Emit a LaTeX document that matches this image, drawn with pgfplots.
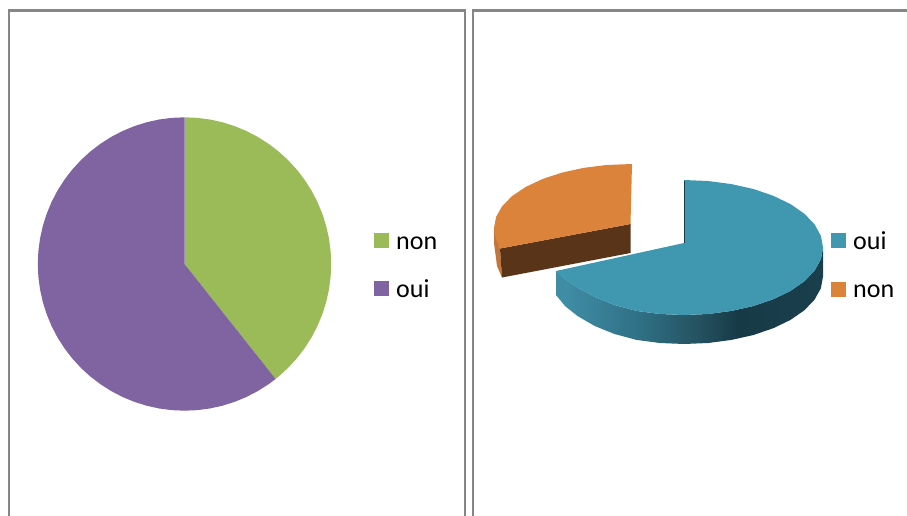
\documentclass[border=0pt]{standalone}
\usepackage{fontspec}
\setmainfont{Carlito}
\usepackage{pgfplots}
\pgfplotsset{compat=1.18}
\definecolor{pgreen}{HTML}{9BBB59}
\definecolor{ppurple}{HTML}{8064A2}
\definecolor{pteal}{HTML}{4098B0}
\definecolor{porange}{HTML}{DB823B}
\definecolor{pbrown}{HTML}{5A3418}
\definecolor{pside}{HTML}{C4763A}
\definecolor{frameg}{HTML}{868686}
\definecolor{teal1}{HTML}{3F8CA5}
\definecolor{teal2}{HTML}{2F6F84}
\definecolor{teal25}{HTML}{24515F}
\definecolor{teal3}{HTML}{173A47}
\definecolor{teal4}{HTML}{1A3F4C}
\pgfdeclarehorizontalshading{wallshade}{100bp}{
  color(0bp)=(teal1); color(27bp)=(teal1); color(41bp)=(teal2); color(52bp)=(teal25); color(59bp)=(teal3); color(75bp)=(teal4); color(100bp)=(teal4)}
\begin{document}
\begin{tikzpicture}
\path[use as bounding box] (0,0) rectangle (907pt,515pt);
% Flat pie: polar data around its centre (angle, radius in px)
\begin{axis}[at={(0,0)},anchor=south west,scale only axis,width=907pt,height=515pt,hide axis,
  xmin=-184.5,xmax=722.5,ymin=-251,ymax=264]
\addplot[fill=pgreen,draw=none,data cs=polar] coordinates {(0,0)
 (90,146.7)(85,146.7)(80,146.7)(75,146.7)(70,146.7)(65,146.7)(60,146.7)(55,146.7)(50,146.7)(45,146.7)(40,146.7)(35,146.7)(30,146.7)(25,146.7)(20,146.7)(15,146.7)(10,146.7)(5,146.7)(0,146.7)
 (-5,146.7)(-10,146.7)(-15,146.7)(-20,146.7)(-25,146.7)(-30,146.7)(-35,146.7)(-40,146.7)(-45,146.7)(-50,146.7)(-51.6,146.7)} --cycle;
\addplot[fill=ppurple,draw=none,data cs=polar] coordinates {(0,0)
 (-51.6,146.7)(-55,146.7)(-60,146.7)(-65,146.7)(-70,146.7)(-75,146.7)(-80,146.7)(-85,146.7)(-90,146.7)(-95,146.7)(-100,146.7)(-105,146.7)(-110,146.7)(-115,146.7)(-120,146.7)(-125,146.7)(-130,146.7)(-135,146.7)(-140,146.7)(-145,146.7)(-150,146.7)(-155,146.7)(-160,146.7)(-165,146.7)(-170,146.7)(-175,146.7)(-180,146.7)
 (-185,146.7)(-190,146.7)(-195,146.7)(-200,146.7)(-205,146.7)(-210,146.7)(-215,146.7)(-220,146.7)(-225,146.7)(-230,146.7)(-235,146.7)(-240,146.7)(-245,146.7)(-250,146.7)(-255,146.7)(-260,146.7)(-265,146.7)(-270,146.7)} --cycle;
\end{axis}
% Everything else in pixel coordinates
\begin{axis}[at={(0,0)},anchor=south west,scale only axis,width=907pt,height=515pt,hide axis,
  xmin=0,xmax=907,ymin=0,ymax=515,y dir=reverse]
% frames
\addplot[frameg,line width=2.8pt] coordinates {(9,520)(9,10.5)(465,10.5)(465,520)};
\addplot[frameg,line width=2.8pt] coordinates {(473,520)(473,10.5)(912,10.5)};
% orange slice
\addplot[fill=pside,draw=none] coordinates {(494,226)(494,243)(497,266)(502,277.5)(500,248.5)} --cycle;
\addplot[fill=pbrown,draw=none] coordinates {(630.5,224)(500,248.5)(502,277.5)(630.5,253)} --cycle;
\addplot[fill=porange,draw=none] coordinates {(630.5,224)(632,164)(606.4,165)(583.5,167.9)(562,172.6)(542.6,179)(525.8,186.9)(512.2,196)(502.2,206.1)(496.1,216.9)(494,228)(496,239)(498.6,244.6)(500,248.5)} --cycle;
% teal wall
\addplot[draw=none,shade,shading=wallshade] coordinates {
 (823,247.5)(820.9,259.2)(814.6,270.6)(804.4,281.25)(790.5,290.9)(773.3,299.2)(753.5,306)(731.5,310.9)(708.1,314)(684,315)(659.9,314)(636.5,310.9)(614.5,305)(594.7,297)(577.5,287.5)(565,279)(556,271)
 (556,295)(565,306)(577.5,316)(594.7,326)(614.5,334)(636.5,339.9)(659.9,343)(684,344)(708.1,343)(731.5,339.9)(753.5,335)(773.3,328.2)(790.5,319.9)(804.4,310.25)(814.6,299.6)(820.9,288.2)(823,276.5)} --cycle;
% teal top
\addplot[fill=pteal,draw=none] coordinates {(684,243)(684,180)(708.1,181)(731.5,184.1)(753.5,189)(773.3,195.8)(790.5,204.1)(804.4,213.75)(814.6,224.4)(820.9,235.8)(823,247.5)
 (820.9,259.2)(814.6,270.6)(804.4,281.25)(790.5,290.9)(773.3,299.2)(753.5,306)(731.5,310.9)(708.1,314)(684,315)(659.9,314)(636.5,310.9)(614.5,305)(594.7,297)(577.5,287.5)(565,279)(556,271)} --cycle;
\addplot[teal3,line width=0.9pt] coordinates {(684,180.5)(684,243)};
% legends
\addplot[fill=pgreen,draw=none] coordinates {(374,233)(389,233)(389,248)(374,248)} --cycle;
\addplot[fill=ppurple,draw=none] coordinates {(374,281)(389,281)(389,296)(374,296)} --cycle;
\addplot[fill=pteal,draw=none] coordinates {(831,233)(846,233)(846,248)(831,248)} --cycle;
\addplot[fill=porange,draw=none] coordinates {(831,282)(846,282)(846,297)(831,297)} --cycle;
\node[anchor=base west,inner sep=0pt,font=\fontsize{26}{30}\selectfont] at (axis cs:396,249) {non};
\node[anchor=base west,inner sep=0pt,font=\fontsize{26}{30}\selectfont] at (axis cs:396,297) {oui};
\node[anchor=base west,inner sep=0pt,font=\fontsize{26}{30}\selectfont] at (axis cs:853,249) {oui};
\node[anchor=base west,inner sep=0pt,font=\fontsize{26}{30}\selectfont] at (axis cs:853,297) {non};
\end{axis}
\end{tikzpicture}
\end{document}
